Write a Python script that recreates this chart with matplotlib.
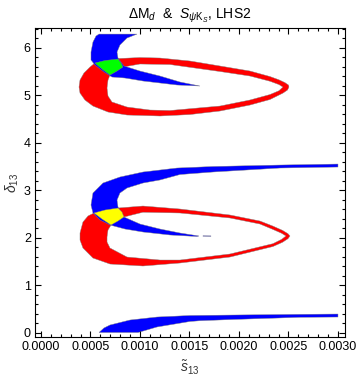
import numpy as np
import matplotlib
matplotlib.use("Agg")
import matplotlib.pyplot as plt
from matplotlib.path import Path
from matplotlib.patches import PathPatch
from matplotlib.ticker import MultipleLocator, FormatStrFormatter

plt.rcParams['font.family'] = ['Liberation Sans', 'DejaVu Sans']
plt.rcParams['mathtext.fontset'] = 'custom'
plt.rcParams['mathtext.rm'] = 'Liberation Sans'
plt.rcParams['mathtext.it'] = 'Liberation Sans:italic'

TWO_PI = 2 * np.pi

# ---- region boundaries (x = s13, y = delta13) ----
# upper blue crescent (delta ~ 5..2pi)
blue_up_x = [0.000586, 0.000970, 0.000869, 0.000798, 0.000768, 0.000778, 0.000838,
             0.001000, 0.001202, 0.001404, 0.001606, 0.001374, 0.001202, 0.001030,
             0.000848, 0.000717, 0.000636, 0.000545, 0.000505, 0.000505, 0.000525, 0.000556]
blue_up_y = [TWO_PI, TWO_PI, 6.200, 6.053, 5.905, 5.779, 5.611,
             5.505, 5.400, 5.274, 5.189, 5.211, 5.253, 5.295,
             5.358, 5.379, 5.484, 5.632, 5.737, 5.905, 6.116, 6.242]

green_x = [0.000545, 0.000646, 0.000778, 0.000808, 0.000828, 0.000768, 0.000697, 0.000616]
green_y = [5.674, 5.726, 5.758, 5.674, 5.589, 5.505, 5.421, 5.547]

red_up_outer_x = [0.000384, 0.000394, 0.000434, 0.000495, 0.000545, 0.000646, 0.000778,
                  0.001000, 0.001202, 0.001505, 0.001808, 0.002111, 0.002313, 0.002404,
                  0.002465, 0.002500, 0.002505, 0.002490, 0.002444, 0.002313, 0.002111,
                  0.001808, 0.001505, 0.001202, 0.000869, 0.000677, 0.000525, 0.000444,
                  0.000394]
red_up_outer_y = [5.168, 5.316, 5.463, 5.589, 5.674, 5.726, 5.768,
                  5.789, 5.779, 5.716, 5.611, 5.505, 5.389, 5.320,
                  5.260, 5.210, 5.168, 5.105, 5.040, 4.905, 4.789,
                  4.663, 4.589, 4.558, 4.579, 4.642, 4.768, 4.895,
                  5.042]
red_up_inner_x = [0.000677, 0.000697, 0.000768, 0.000828, 0.001000, 0.001303, 0.001808,
                  0.002111, 0.002313, 0.002404, 0.002444, 0.002404, 0.002313, 0.002111,
                  0.001808, 0.001303, 0.001101, 0.000869, 0.000717, 0.000677, 0.000667]
red_up_inner_y = [5.316, 5.421, 5.505, 5.589, 5.653, 5.642, 5.495,
                  5.400, 5.290, 5.220, 5.168, 5.090, 5.010, 4.895,
                  4.768, 4.674, 4.684, 4.747, 4.853, 4.979, 5.147]

# lower blue crescent (delta ~ 2..3.5)
blue_mid_x = [0.003000, 0.002414, 0.001737, 0.001374, 0.001030, 0.000798, 0.000626,
              0.000525, 0.000505, 0.000525, 0.000596, 0.000697, 0.000848, 0.001030,
              0.001303, 0.001576, 0.001596, 0.001404, 0.001202, 0.001000, 0.000838,
              0.000778, 0.000768, 0.000798, 0.000869, 0.001030, 0.001202, 0.001404,
              0.001737, 0.002414, 0.003000]
blue_mid_y = [3.547, 3.526, 3.495, 3.463, 3.379, 3.274, 3.147,
              2.937, 2.684, 2.516, 2.368, 2.263, 2.179, 2.116,
              2.053, 2.021, 2.032, 2.095, 2.179, 2.284, 2.432,
              2.642, 2.789, 2.937, 3.042, 3.147, 3.211, 3.326,
              3.379, 3.463, 3.484]
blue_tail_x = [0.001636, 0.001717, 0.001717, 0.001636]
blue_tail_y = [2.036, 2.034, 2.026, 2.028]

yellow_x = [0.000535, 0.000646, 0.000778, 0.000818, 0.000838, 0.000778, 0.000707, 0.000616]
yellow_y = [2.516, 2.579, 2.621, 2.537, 2.432, 2.347, 2.263, 2.389]

red_mid_outer_x = [0.000394, 0.000424, 0.000475, 0.000535, 0.000646, 0.000778, 0.001030,
                   0.001404, 0.001909, 0.002212, 0.002343, 0.002440, 0.002495, 0.002515,
                   0.002495, 0.002440, 0.002343, 0.001909, 0.001404, 0.001030, 0.000697,
                   0.000525, 0.000424, 0.000394]
red_mid_outer_y = [2.095, 2.326, 2.453, 2.516, 2.579, 2.621, 2.663,
                   2.600, 2.474, 2.347, 2.240, 2.150, 2.080, 2.032,
                   1.975, 1.900, 1.810, 1.589, 1.463, 1.400, 1.442,
                   1.568, 1.779, 1.947]
red_mid_inner_x = [0.000667, 0.000677, 0.000707, 0.000778, 0.000838, 0.001030, 0.001404,
                   0.001909, 0.002212, 0.002343, 0.002430, 0.002475, 0.002430, 0.002343,
                   0.001909, 0.001404, 0.001202, 0.000869, 0.000697, 0.000667]
red_mid_inner_y = [2.011, 2.158, 2.263, 2.347, 2.432, 2.532, 2.516,
                   2.411, 2.284, 2.170, 2.090, 2.032, 1.960, 1.870,
                   1.653, 1.526, 1.526, 1.589, 1.779, 1.905]

# bottom blue band (delta ~ 0..0.4)
blue_low_x = [0.000586, 0.000636, 0.000697, 0.000899, 0.001172, 0.001505, 0.001939,
              0.002616, 0.003000, 0.003000, 0.002616, 0.001939, 0.001606, 0.001505,
              0.001172, 0.001051, 0.000980]
blue_low_y = [0.0, 0.095, 0.158, 0.263, 0.326, 0.358, 0.368,
              0.383, 0.389, 0.326, 0.320, 0.274, 0.248, 0.232,
              0.116, 0.042, 0.0]

x_ticks = [0.0, 0.0005, 0.0010, 0.0015, 0.0020, 0.0025, 0.0030]
y_ticks = [0, 1, 2, 3, 4, 5, 6]

BLUE, RED, GREEN, YELLOW = '#0000ff', '#ff0000', '#00ff00', '#ffff00'
EDGE = '#808080'
LW = 0.3

fig = plt.figure(figsize=(3.6, 3.8), dpi=100)
ax = fig.add_axes([35/360, 1-337/380, 310/360, 309/380])


def poly(xs, ys, color):
    ax.fill(xs, ys, facecolor=color, edgecolor=EDGE, linewidth=LW)


def ring(ox, oy, ix, iy, color):
    outer = np.column_stack([ox, oy])
    inner = np.column_stack([ix, iy])[::-1]
    verts = np.concatenate([outer, outer[:1], inner, inner[:1]])
    codes = ([Path.MOVETO] + [Path.LINETO] * (len(outer) - 1) + [Path.CLOSEPOLY] +
             [Path.MOVETO] + [Path.LINETO] * (len(inner) - 1) + [Path.CLOSEPOLY])
    ax.add_patch(PathPatch(Path(verts, codes), facecolor=color, edgecolor=EDGE, linewidth=LW))


ring(red_up_outer_x, red_up_outer_y, red_up_inner_x, red_up_inner_y, RED)
ring(red_mid_outer_x, red_mid_outer_y, red_mid_inner_x, red_mid_inner_y, RED)
poly(blue_up_x, blue_up_y, BLUE)
poly(blue_mid_x, blue_mid_y, BLUE)
poly(blue_tail_x, blue_tail_y, BLUE)
poly(blue_low_x, blue_low_y, BLUE)
poly(green_x, green_y, GREEN)
poly(yellow_x, yellow_y, YELLOW)

ax.set_xlim(-0.0000606, 0.003071)
ax.set_ylim(-0.0947, 6.411)
ax.set_xticks(x_ticks)
ax.set_yticks(y_ticks)
ax.xaxis.set_major_formatter(FormatStrFormatter('%.4f'))
ax.xaxis.set_minor_locator(MultipleLocator(0.0001))
ax.yaxis.set_minor_locator(MultipleLocator(0.2))
ax.tick_params(which='both', direction='in', top=True, right=True, width=0.8, labelsize=9, pad=3)
ax.tick_params(which='major', length=4)
ax.tick_params(which='minor', length=2)
for s in ax.spines.values():
    s.set_linewidth(0.8)

ax.set_title(r'$\Delta\mathrm{M}_d$  &  $S_{\psi\mathrm{K}_S}$, LHS2', fontsize=10, pad=7)
ax.set_xlabel(r'$\tilde{s}_{13}$', fontsize=10, color='#333333', labelpad=4)
ax.set_ylabel(r'$\delta_{13}$', fontsize=10, color='#333333', labelpad=2)

fig.savefig('out.png', dpi=100)
